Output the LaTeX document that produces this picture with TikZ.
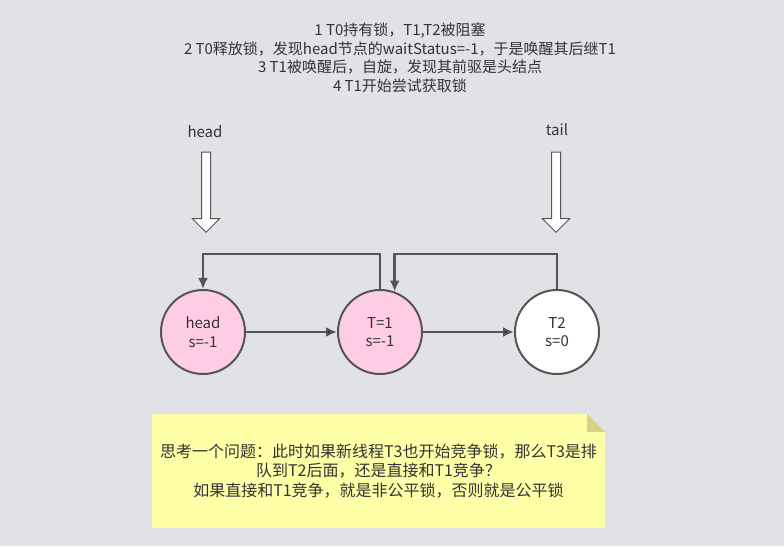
\documentclass[tikz,border=0pt]{standalone}
\usepackage{fontspec}
\setmainfont{Noto Sans CJK SC}
\usepackage{tikz}
\usetikzlibrary{positioning,arrows.meta,shapes.arrows}
\definecolor{bggray}{HTML}{E1E2E6}
\definecolor{nodepink}{HTML}{FFCCE6}
\definecolor{linegray}{HTML}{555555}
\definecolor{noteyellow}{HTML}{FFFFA8}
\definecolor{foldyellow}{HTML}{D6D386}
\definecolor{txtgray}{HTML}{333333}

\begin{document}
\begin{tikzpicture}[x=1pt, y=1pt, >={Latex[length=11pt,width=10pt]}, node distance=177pt,
	every node/.style={text=txtgray, font=\fontsize{15}{18.5}\selectfont}]
	\tikzstyle{qnode}=[circle, draw=linegray, line width=2pt, fill=nodepink, minimum size=84pt, align=center, inner sep=0pt]
	\tikzstyle{ptr}=[single arrow, draw=linegray, fill=white, line width=1pt, rotate=-90, minimum height=80pt,
		text height=0pt, text depth=0pt, inner xsep=0pt, inner ysep=4pt, single arrow head extend=9pt]
	\tikzstyle{link}=[->, draw=linegray, line width=2.5pt]
	\fill[bggray] (0,0) rectangle (784,546);
	\useasboundingbox (0,0) rectangle (784,546);
	% steps
	\node[align=center] (steps) at (400,488) {1 T0持有锁，T1,T2被阻塞\\
		2 T0释放锁，发现head节点的waitStatus=-1，于是唤醒其后继T1\\
		3 T1被唤醒后，自旋，发现其前驱是头结点\\
		4 T1开始尝试获取锁};
	% queue
	\node[qnode]              (head) at (203,214) {head\\s=-1};
	\node[qnode, right of=head] (t1)   {T=1\\s=-1};
	\node[qnode, right of=t1, fill=white] (t2) {T2\\s=0};
	\node[ptr] (headptr) at (206,356) {};
	\node[ptr] (tailptr) at (556,356) {};
	\node (headlbl) at (205,414) {head};
	\node (taillbl) at (557,416) {tail};
	\path[link]
	(head) edge (t1)
	(t1) edge (t2);
	\draw[link] (t1.north) -- ++(0,35) -| (head.north);
	\draw[link] (t2.north) -- ++(0,35) -| (t1.70);
	% note
	\node[minimum width=453pt, minimum height=114pt, align=center] (note) at (378.5,75) {};
	\fill[noteyellow] (note.south west) -- (note.south east) -- ([yshift=-18pt]note.north east)
		-- ([xshift=-18pt]note.north east) -- (note.north west) -- cycle;
	\fill[foldyellow] ([xshift=-18pt]note.north east) -- ([yshift=-18pt]note.north east)
		-- ([xshift=-18pt,yshift=-18pt]note.north east) -- cycle;
	\node[align=center, font=\fontsize{16}{19.5}\selectfont] (notetxt) at (note) {思考一个问题：此时如果新线程T3也开始竞争锁，那么T3是排\\
		队到T2后面，还是直接和T1竞争？\\
		如果直接和T1竞争，就是非公平锁，否则就是公平锁};
\end{tikzpicture}
\end{document}
